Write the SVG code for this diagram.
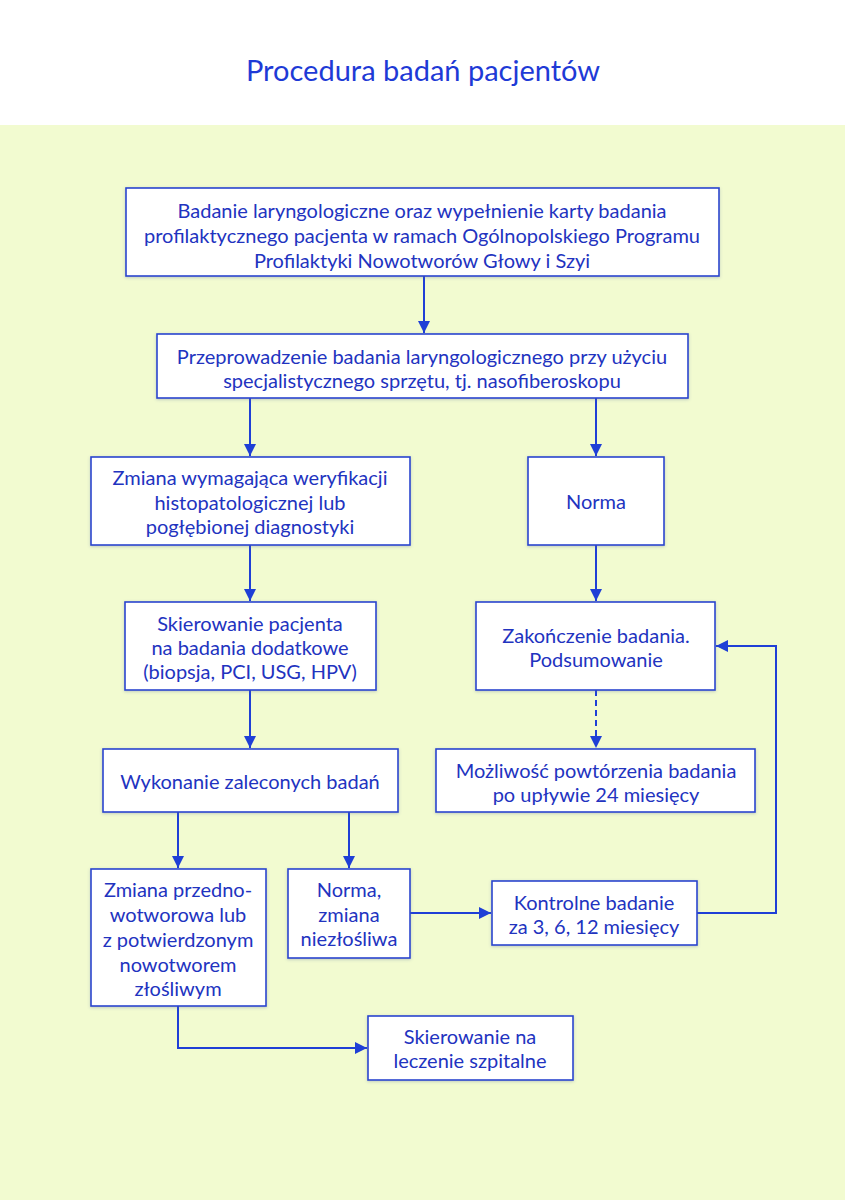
<svg xmlns="http://www.w3.org/2000/svg" width="845" height="1200" viewBox="0 0 845 1200">
<defs>
<style>
.bg{fill:#f2fbd0}
.box{fill:#ffffff;stroke:#2a45cf;stroke-width:1.6;filter:url(#sh)}
.t{font-family:Lato,"Open Sans",sans-serif;font-size:20px;fill:#2233bf;text-anchor:middle}
.title{font-family:Lato,"Open Sans",sans-serif;font-size:29px;fill:#1e3ad6;text-anchor:middle}
.c{fill:none;stroke:#1f3fd6;stroke-width:2;marker-end:url(#ah)}
.d{stroke-dasharray:6 4}
</style>
<filter id="sh" x="-10%" y="-10%" width="120%" height="130%">
<feDropShadow dx="0" dy="1" stdDeviation="1.5" flood-color="#6070a0" flood-opacity="0.35"/>
</filter>
<marker id="ah" viewBox="0 0 10 10" refX="10" refY="5" markerWidth="6" markerHeight="6" markerUnits="strokeWidth" orient="auto">
<path d="M0,0 L10,5 L0,10 z" fill="#1f3fd6"/>
</marker>
</defs>
<rect x="0" y="0" width="845" height="1200" fill="#ffffff"/>
<rect class="bg" x="0" y="125" width="845" height="1075"/>
<text class="title" x="423" y="81">Procedura badań pacjentów</text>

<g id="connectors">
<path class="c" d="M424,276 V333"/>
<path class="c" d="M250,398 V456"/>
<path class="c" d="M596,398 V456"/>
<path class="c" d="M250,545 V601"/>
<path class="c" d="M596,545 V601"/>
<path class="c" d="M250,690 V748"/>
<path class="c d" d="M596,690 V748"/>
<path class="c" d="M178,812 V868"/>
<path class="c" d="M349,812 V868"/>
<path class="c" d="M410,913 H491"/>
<path class="c" d="M697,913 H776 V646 H716"/>
<path class="c" d="M178,1006 V1048 H367"/>
</g>

<g id="n1"><rect class="box" x="126" y="188" width="593" height="88"/>
<text class="t" x="422" y="218">Badanie laryngologiczne oraz wypełnienie karty badania</text>
<text class="t" x="422" y="243">profilaktycznego pacjenta w ramach Ogólnopolskiego Programu</text>
<text class="t" x="422" y="268">Profilaktyki Nowotworów Głowy i Szyi</text></g>

<g id="n2"><rect class="box" x="157" y="334" width="531" height="64"/>
<text class="t" x="422" y="364">Przeprowadzenie badania laryngologicznego przy użyciu</text>
<text class="t" x="422" y="388">specjalistycznego sprzętu, tj. nasofiberoskopu</text></g>

<g id="n3"><rect class="box" x="91" y="457" width="319" height="88"/>
<text class="t" x="250" y="485">Zmiana wymagająca weryfikacji</text>
<text class="t" x="250" y="510">histopatologicznej lub</text>
<text class="t" x="250" y="534">pogłębionej diagnostyki</text></g>

<g id="n4"><rect class="box" x="528" y="457" width="136" height="88"/>
<text class="t" x="596" y="509">Norma</text></g>

<g id="n5"><rect class="box" x="125" y="602" width="251" height="88"/>
<text class="t" x="250" y="631">Skierowanie pacjenta</text>
<text class="t" x="250" y="655">na badania dodatkowe</text>
<text class="t" x="250" y="679">(biopsja, PCI, USG, HPV)</text></g>

<g id="n6"><rect class="box" x="476" y="602" width="239" height="88"/>
<text class="t" x="596" y="643">Zakończenie badania.</text>
<text class="t" x="596" y="667">Podsumowanie</text></g>

<g id="n7"><rect class="box" x="103" y="749" width="295" height="63"/>
<text class="t" x="250" y="789">Wykonanie zaleconych badań</text></g>

<g id="n8"><rect class="box" x="436" y="749" width="319" height="63"/>
<text class="t" x="596" y="778">Możliwość powtórzenia badania</text>
<text class="t" x="596" y="802">po upływie 24 miesięcy</text></g>

<g id="n9"><rect class="box" x="91" y="869" width="175" height="137"/>
<text class="t" x="178" y="897">Zmiana przedno-</text>
<text class="t" x="178" y="922">wotworowa lub</text>
<text class="t" x="178" y="947">z potwierdzonym</text>
<text class="t" x="178" y="972">nowotworem</text>
<text class="t" x="178" y="996">złośliwym</text></g>

<g id="n10"><rect class="box" x="288" y="869" width="122" height="89"/>
<text class="t" x="349" y="897">Norma,</text>
<text class="t" x="349" y="922">zmiana</text>
<text class="t" x="349" y="946">niezłośliwa</text></g>

<g id="n11"><rect class="box" x="492" y="881" width="205" height="64"/>
<text class="t" x="594" y="910">Kontrolne badanie</text>
<text class="t" x="594" y="934">za 3, 6, 12 miesięcy</text></g>

<g id="n12"><rect class="box" x="368" y="1016" width="205" height="64"/>
<text class="t" x="470" y="1044">Skierowanie na</text>
<text class="t" x="470" y="1068">leczenie szpitalne</text></g>
</svg>
